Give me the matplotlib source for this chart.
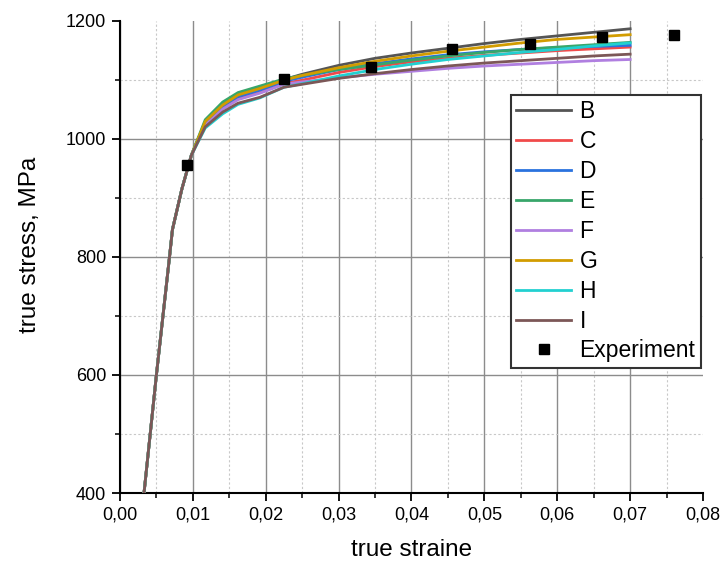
import matplotlib
matplotlib.use("Agg")
import matplotlib.pyplot as plt
from matplotlib.ticker import MultipleLocator, FuncFormatter

plt.rcParams['font.family'] = ['Liberation Sans', 'DejaVu Sans']

# strain points shared by all simulated curves
strain = [0.0033, 0.0050, 0.0068, 0.0072, 0.0085, 0.0098, 0.0117, 0.0141,
          0.0162, 0.0192, 0.0225, 0.0250, 0.0300, 0.0350, 0.0400, 0.0450,
          0.0500, 0.0550, 0.0600, 0.0650, 0.0700]

elastic = [400, 600, 800, 846, 915, 972]

B = elastic + [1028, 1059, 1075, 1086, 1100, 1109, 1124, 1136, 1145, 1153, 1161, 1168, 1174, 1180, 1186]
C = elastic + [1024, 1052, 1068, 1078, 1093, 1099, 1112, 1122, 1130, 1136, 1141, 1145, 1149, 1152, 1155]
D = elastic + [1027, 1055, 1071, 1082, 1097, 1104, 1117, 1127, 1135, 1142, 1147, 1151, 1154, 1156, 1158]
E = elastic + [1032, 1062, 1078, 1089, 1101, 1107, 1117, 1125, 1133, 1140, 1146, 1151, 1155, 1159, 1163]
F = elastic + [1023, 1050, 1066, 1077, 1092, 1096, 1103, 1109, 1114, 1119, 1123, 1126, 1129, 1132, 1134]
G = elastic + [1029, 1057, 1074, 1085, 1099, 1107, 1120, 1131, 1140, 1148, 1155, 1162, 1168, 1172, 1176]
H = elastic + [1018, 1042, 1058, 1069, 1087, 1093, 1106, 1117, 1126, 1134, 1140, 1146, 1151, 1157, 1162]
I = elastic + [1020, 1045, 1060, 1070, 1087, 1092, 1102, 1110, 1117, 1123, 1128, 1132, 1136, 1140, 1143]

series_names = ['B', 'C', 'D', 'E', 'F', 'G', 'H', 'I']
series_values = [B, C, D, E, F, G, H, I]
series_colors = ['#555555', '#f04a4a', '#2a72de', '#38a66a', '#b07fe0',
                 '#d29c00', '#22d0d0', '#7c5757']

exp_strain = [0.0092, 0.0225, 0.0344, 0.0456, 0.0562, 0.0662, 0.0760]
exp_stress = [956, 1101, 1122, 1152, 1161, 1172, 1176]

fig = plt.figure(figsize=(7.24, 5.65), dpi=100)
ax = fig.add_axes([0.1657, 0.1274, 0.8053, 0.8363])

for name, vals, col in zip(series_names, series_values, series_colors):
    ax.plot(strain, vals, color=col, lw=2.0, label=name, zorder=3)

ax.plot(exp_strain, exp_stress, linestyle='none', marker='s', markersize=7.5,
        color='black', label='Experiment', zorder=5)

ax.set_xlim(0, 0.08)
ax.set_ylim(400, 1200)
ax.xaxis.set_major_locator(MultipleLocator(0.01))
ax.xaxis.set_minor_locator(MultipleLocator(0.005))
ax.yaxis.set_major_locator(MultipleLocator(200))
ax.yaxis.set_minor_locator(MultipleLocator(100))
ax.xaxis.set_major_formatter(FuncFormatter(lambda v, p: f"{v:.2f}".replace('.', ',')))
ax.yaxis.set_major_formatter(FuncFormatter(lambda v, p: f"{v:.0f}"))

ax.grid(which='major', color='#8c8c8c', lw=1.0, linestyle='-', zorder=0)
ax.grid(which='minor', color='#c8c8c8', lw=0.8, linestyle=(0, (2, 2)), zorder=0)
ax.set_axisbelow(True)

for s in ['top', 'right']:
    ax.spines[s].set_visible(False)
for s in ['left', 'bottom']:
    ax.spines[s].set_linewidth(1.5)
    ax.spines[s].set_color('black')

ax.tick_params(which='major', direction='out', length=6, width=1.3, labelsize=13, pad=4)
ax.tick_params(which='minor', direction='out', length=3.5, width=1.1)

ax.set_xlabel('true straine', fontsize=17.5, labelpad=11)
ax.set_ylabel('true stress, MPa', fontsize=17.5)
ax.yaxis.set_label_coords(-0.136, 0.525)

leg = ax.legend(loc='upper right', bbox_to_anchor=(0.9966, 0.843), fontsize=16.5,
                frameon=True, fancybox=False, shadow=False, handlelength=2.4,
                handletextpad=0.35, labelspacing=0.30, borderpad=0.25,
                borderaxespad=0.0, numpoints=1)
leg.get_frame().set_edgecolor('#333333')
leg.get_frame().set_linewidth(1.5)
leg.get_frame().set_alpha(1)

fig.canvas.draw()
for t, loc in zip(ax.xaxis.get_major_ticks(), ax.xaxis.get_majorticklocs()):
    if loc >= 0.0799:
        t.gridline.set_visible(False)
for t, loc in zip(ax.yaxis.get_major_ticks(), ax.yaxis.get_majorticklocs()):
    if loc >= 1199:
        t.gridline.set_visible(False)

fig.savefig('out.png', dpi=100)
